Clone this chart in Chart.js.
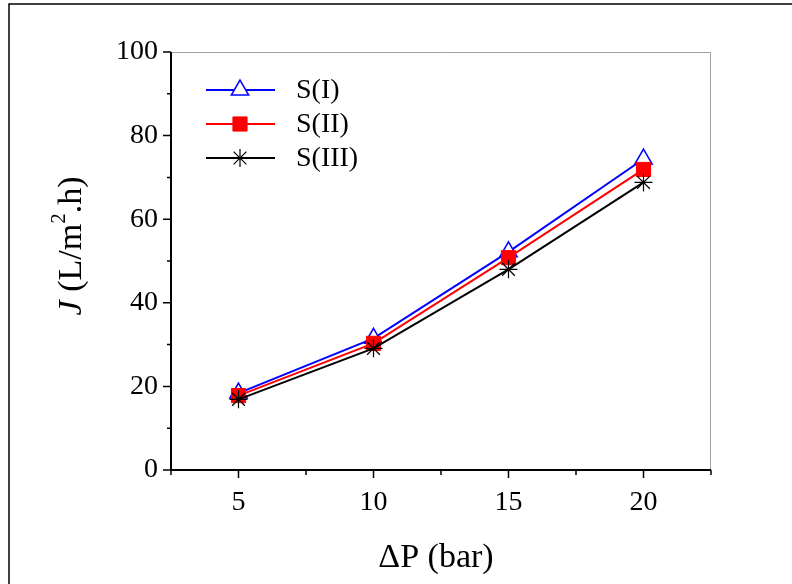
<!DOCTYPE html>
<html>
<head>
<meta charset="utf-8">
<script src="https://cdn.jsdelivr.net/npm/chart.js@4/dist/chart.umd.min.js"></script>
<style>
  html, body { margin: 0; padding: 0; background: #fff; }
  #wrap { width: 792px; height: 584px; position: relative; }
</style>
</head>
<body>
<div id="wrap"><canvas id="myChart" width="792" height="584"></canvas></div>
<script>
// pressure (bar) and flux for the three membranes
var pressure = [5, 10, 15, 20];
var fluxS1 = [18.4, 31.5, 52.2, 74.4];
var fluxS2 = [17.8, 30.3, 50.8, 71.9];
var fluxS3 = [16.9, 29.1, 48.0, 68.8];
var seriesNames = ['S(I)', 'S(II)', 'S(III)'];

var serif = "'Liberation Serif', 'Times New Roman', serif";

function pts(ys) {
  return pressure.map(function (x, i) { return { x: x, y: ys[i] }; });
}

// frame, axes, ticks, axis titles and legend
var decor = {
  id: 'decor',
  beforeDraw: function (chart) {
    var ctx = chart.ctx;
    ctx.save();
    ctx.fillStyle = '#fff';
    ctx.fillRect(0, 0, chart.width, chart.height);
    ctx.strokeStyle = '#000';
    ctx.lineWidth = 1.5;
    ctx.beginPath();
    ctx.moveTo(9, chart.height);
    ctx.lineTo(9, 4);
    ctx.lineTo(chart.width, 4);
    ctx.stroke();
    ctx.restore();
  },
  afterDraw: function (chart) {
    var ctx = chart.ctx;
    var a = chart.chartArea;
    var xs = chart.scales.x, ys = chart.scales.y;
    ctx.save();

    // top and right edges
    ctx.strokeStyle = '#a0a0a0';
    ctx.lineWidth = 1;
    ctx.beginPath();
    ctx.moveTo(a.left, a.top + 0.5);
    ctx.lineTo(a.right - 0.5, a.top + 0.5);
    ctx.lineTo(a.right - 0.5, a.bottom);
    ctx.stroke();

    // left and bottom axes
    ctx.strokeStyle = '#000';
    ctx.lineWidth = 2;
    ctx.beginPath();
    ctx.moveTo(a.left, a.top);
    ctx.lineTo(a.left, a.bottom);
    ctx.lineTo(a.right, a.bottom);
    ctx.stroke();

    ctx.lineWidth = 1.5;
    ctx.beginPath();
    xs.ticks.forEach(function (t) {
      var px = xs.getPixelForValue(t.value);
      var len = (t.value % 5 === 0) ? 8 : 5;
      ctx.moveTo(px, a.bottom);
      ctx.lineTo(px, a.bottom + len);
    });
    ys.ticks.forEach(function (t) {
      var py = ys.getPixelForValue(t.value);
      var len = (t.value % 20 === 0) ? 8 : 4;
      ctx.moveTo(a.left, py);
      ctx.lineTo(a.left - len, py);
    });
    ctx.stroke();

    // x title
    ctx.fillStyle = '#000';
    ctx.font = '34px ' + serif;
    ctx.textAlign = 'center';
    ctx.textBaseline = 'middle';
    ctx.fillText('\u0394P (bar)', 436, 558);

    // y title, rotated, italic J and superscript 2
    ctx.translate(72, 246);
    ctx.rotate(-Math.PI / 2);
    var parts = [
      { t: 'J', f: 'italic 34px ' + serif, dy: 0 },
      { t: ' (L/m', f: '34px ' + serif, dy: 0 },
      { t: '2', f: '21px ' + serif, dy: -13 },
      { t: '.h)', f: '34px ' + serif, dy: 0 }
    ];
    var total = 0;
    parts.forEach(function (p) { ctx.font = p.f; p.w = ctx.measureText(p.t).width; total += p.w; });
    var cx = -total / 2;
    ctx.textAlign = 'left';
    parts.forEach(function (p) {
      ctx.font = p.f;
      ctx.fillText(p.t, cx, p.dy);
      cx += p.w;
    });
    ctx.setTransform(1, 0, 0, 1, 0, 0);

    // legend: line with marker, then name
    ctx.textBaseline = 'middle';
    chart.data.datasets.forEach(function (ds, i) {
      var ly = 90 + i * 34;
      ctx.strokeStyle = ds.borderColor;
      ctx.lineWidth = ds.borderWidth;
      ctx.beginPath();
      ctx.moveTo(206, ly);
      ctx.lineTo(275, ly);
      ctx.stroke();
      ctx.fillStyle = ds.pointBackgroundColor;
      ctx.strokeStyle = ds.pointBorderColor;
      ctx.lineWidth = ds.pointBorderWidth;
      Chart.helpers.drawPoint(ctx, {
        pointStyle: ds.pointStyle,
        radius: ds.pointRadius,
        rotation: 0,
        borderWidth: ds.pointBorderWidth
      }, 240, ly);
      ctx.fillStyle = '#000';
      ctx.font = '28px ' + serif;
      ctx.textAlign = 'left';
      ctx.fillText(ds.label, 296, ly + 1);
    });
    ctx.restore();
  }
};

var ctx = document.getElementById('myChart').getContext('2d');
window.chart = new Chart(ctx, {
  type: 'line',
  data: {
    datasets: [{
      label: seriesNames[0],
      data: pts(fluxS1),
      borderColor: '#0000ff',
      borderWidth: 2,
      pointStyle: 'triangle',
      pointRadius: 10,
      pointBackgroundColor: '#ffffff',
      pointBorderColor: '#0000ff',
      pointBorderWidth: 1.5,
      order: 3
    }, {
      label: seriesNames[1],
      data: pts(fluxS2),
      borderColor: '#ff0000',
      borderWidth: 2,
      pointStyle: 'rect',
      pointRadius: 10,
      pointBackgroundColor: '#ff0000',
      pointBorderColor: '#ff0000',
      pointBorderWidth: 1,
      order: 2
    }, {
      label: seriesNames[2],
      data: pts(fluxS3),
      borderColor: '#000000',
      borderWidth: 2,
      pointStyle: 'star',
      pointRadius: 9,
      pointBackgroundColor: '#000000',
      pointBorderColor: '#000000',
      pointBorderWidth: 1.2,
      order: 1
    }]
  },
  options: {
    responsive: false,
    animation: false,
    layout: { padding: { top: 52, right: 81, left: 0, bottom: 0 } },
    plugins: { legend: { display: false }, tooltip: { enabled: false } },
    scales: {
      x: {
        type: 'linear',
        min: 2.5,
        max: 22.5,
        grid: { display: false, drawTicks: false },
        border: { display: false },
        ticks: {
          stepSize: 2.5,
          padding: 16,
          color: '#000',
          font: { family: serif, size: 28 },
          maxRotation: 0,
          autoSkip: false,
          callback: function (v) { return v % 5 === 0 ? v : ''; }
        },
        afterFit: function (s) { s.height = 114; }
      },
      y: {
        min: 0,
        max: 100,
        grid: { display: false, drawTicks: false },
        border: { display: false },
        ticks: {
          stepSize: 10,
          padding: 13,
          color: '#000',
          font: { family: serif, size: 28 },
          autoSkip: false,
          callback: function (v) { return v % 20 === 0 ? v : ''; }
        },
        afterFit: function (s) { s.width = 171; }
      }
    }
  },
  plugins: [decor]
});
</script>
</body>
</html>
